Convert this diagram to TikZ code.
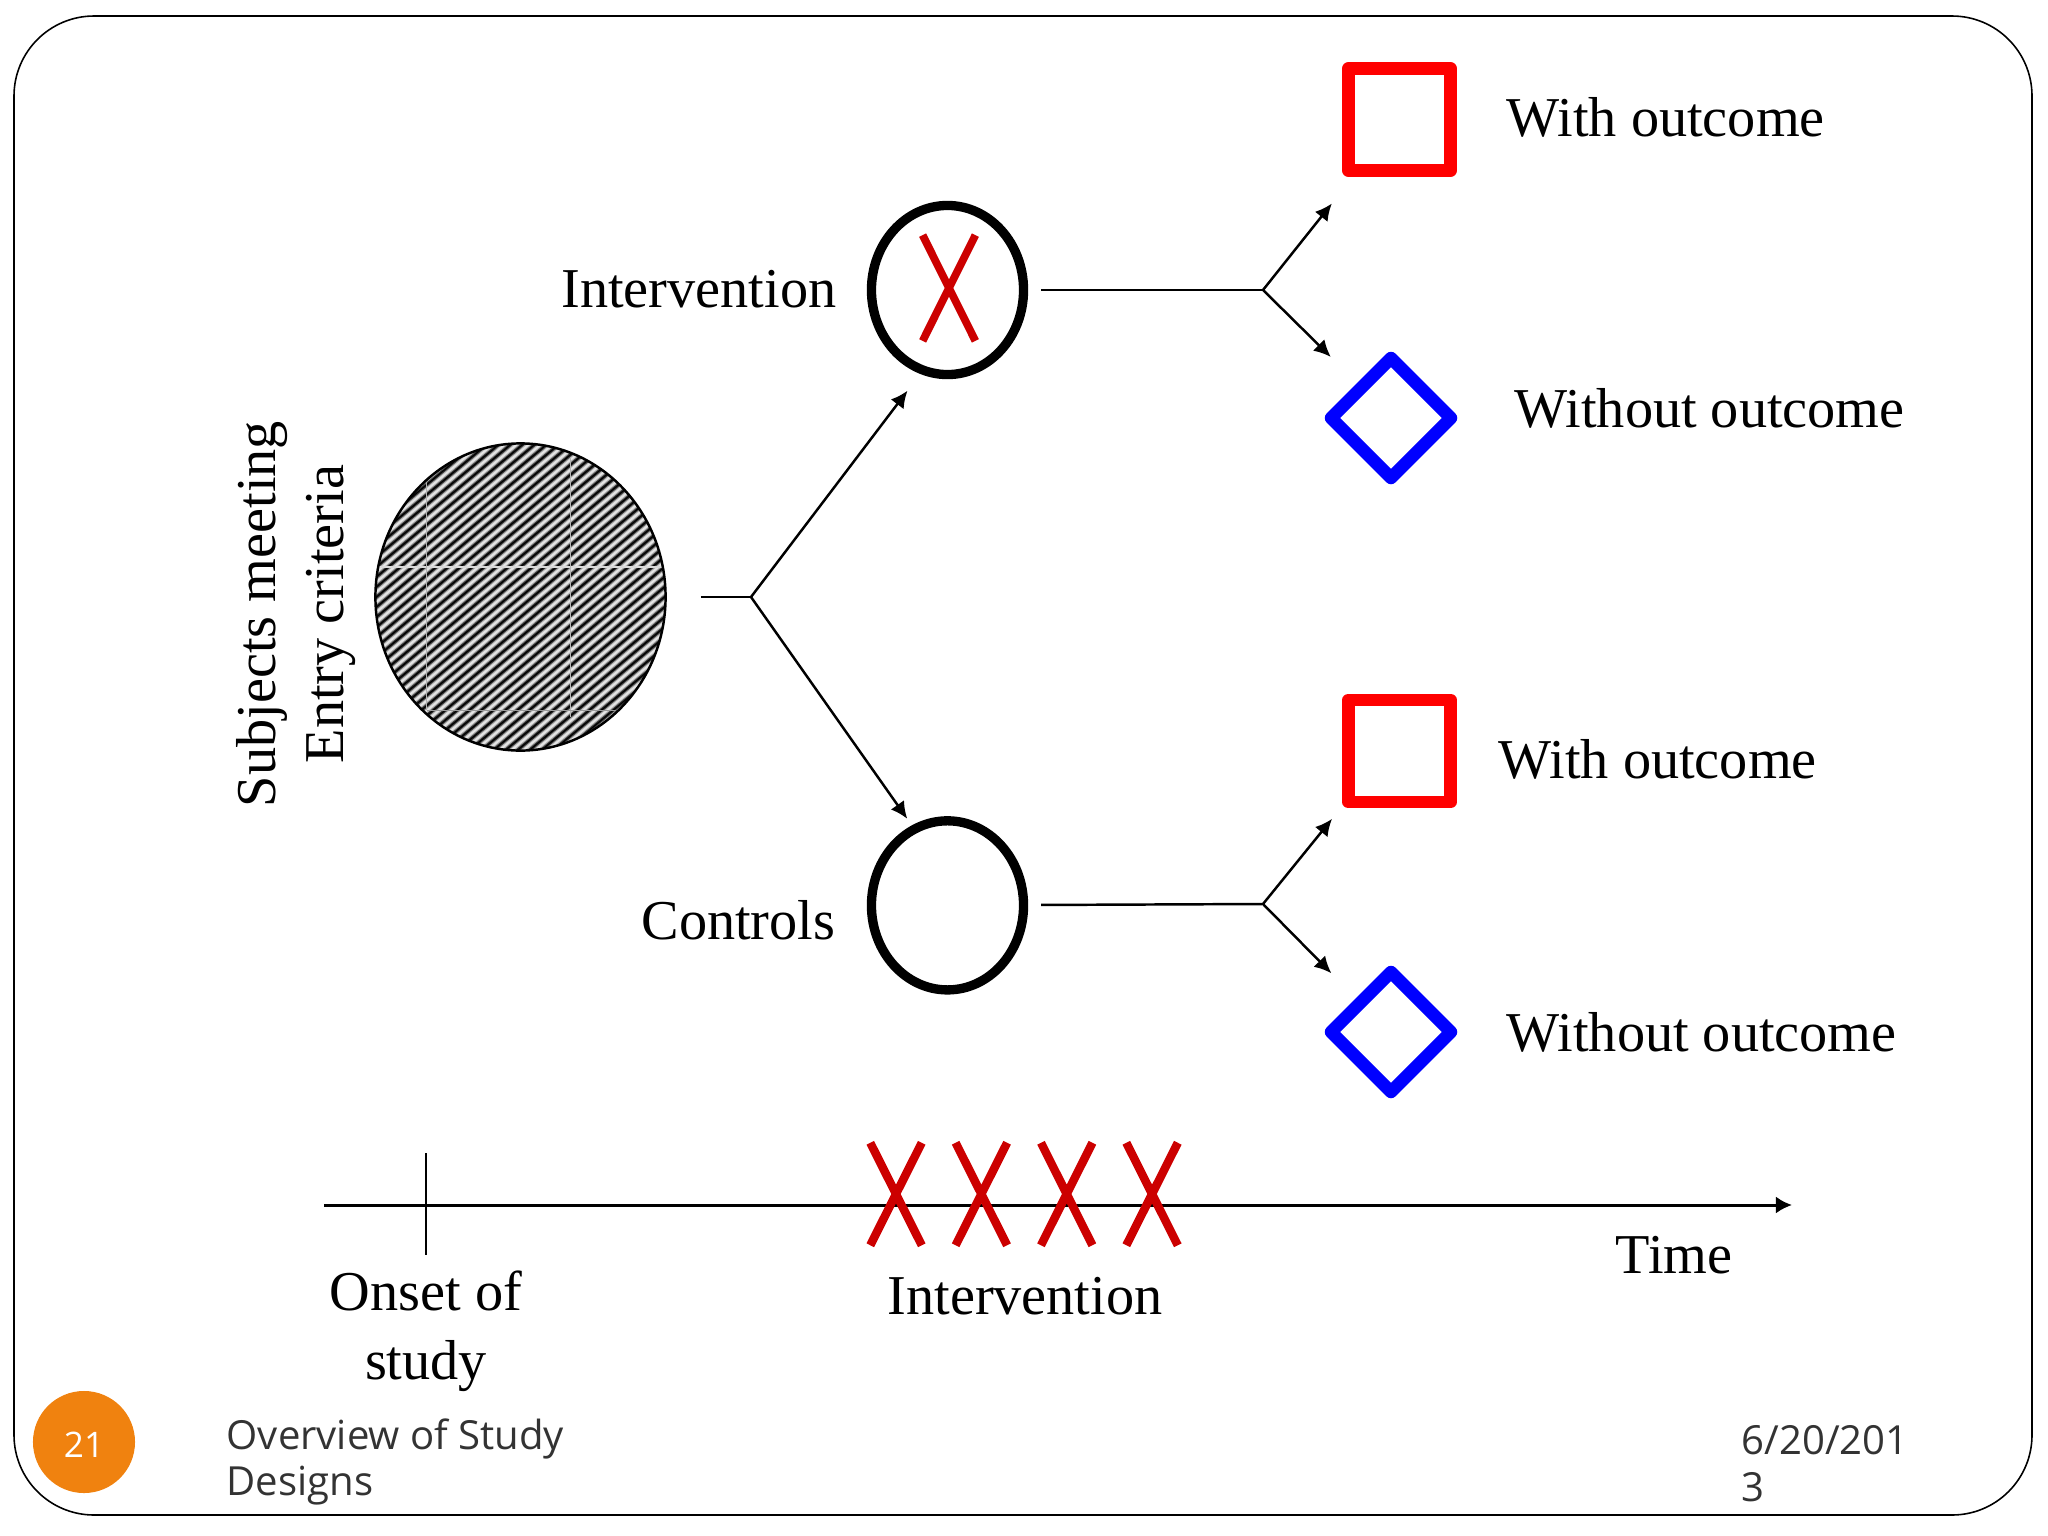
\documentclass[tikz,border=0pt]{standalone}
\usepackage{fontspec}
\setmainfont{Liberation Serif}
\newfontfamily\footfont{Open Sans}
\usetikzlibrary{shapes,arrows.meta}
\definecolor{markred}{HTML}{CC0000}
\definecolor{badge}{HTML}{F0820F}
\definecolor{foottext}{HTML}{333333}
\tikzstyle{line} = [draw, line width=.7pt, -{Latex[length=4.8pt,width=4.6pt]}]
\tikzstyle{stem} = [draw, line width=.7pt]
\tikzstyle{label} = [inner sep=0pt, font=\fontsize{16}{19.4}\selectfont, align=center]
\tikzstyle{foot} = [inner sep=0pt, font=\footfont\fontsize{11.4}{13.3}\selectfont, text=foottext, align=left, anchor=west]
\tikzstyle{arm} = [draw, ellipse, line width=2.65pt, minimum width=1.52cm, minimum height=1.69cm, inner sep=0pt]
\tikzstyle{withbox} = [draw=red, rectangle, line width=3.6pt, line join=round, minimum width=1.02cm, minimum height=1.02cm, inner sep=0pt]
\tikzstyle{withoutbox} = [draw=blue, diamond, aspect=1, line width=3.6pt, line join=round, minimum size=1.25cm, inner sep=0pt]
\tikzstyle{xmark} = [draw=markred, cross out, line width=2.4pt, minimum width=.43cm, minimum height=.94cm, inner sep=0pt]
\tikzstyle{pool} = [draw, ellipse, line width=.7pt, minimum width=2.9cm, minimum height=3.07cm, inner sep=0pt, fill=gray!60,
  path picture={
    \foreach \k in {-30,...,30}
      \draw[line width=.95pt, gray!45!black] (\k*12-184,154) -- (\k*12+184,-154);
    \foreach \k in {-30,...,30}
      \draw[line width=.35pt, black] (\k*12-184,154) -- (\k*12+184,-154);
    \foreach \k in {-30,...,30}
      \draw[line width=.55pt, white!90!black] (\k*12-178,154) -- (\k*12+190,-154);
    \draw[line width=.5pt, white!85!black] (-146,-30) -- (146,-30);
    \draw[line width=.35pt, white!70!black] (-94,-117) -- (-94,113);
    \draw[line width=.35pt, white!70!black] (50,-140) -- (50,120);
    \draw[line width=.25pt, white!60!black] (-94,113) -- (95,113);
  }]

\begin{document}
\begin{tikzpicture}[x=.01cm, y=-.01cm]
        \useasboundingbox (0,0) rectangle (2048,1536);
        \draw[line width=.45pt, rounded corners=.8cm] (14,16) rectangle (2032,1515);
        % left side
        \node[pool] (pool) at (520.5,597) {};
        \node[label, rotate=90] (entry) at (296,614) {Subjects meeting\\Entry criteria};
        \coordinate (split) at (751,597);
        % the two arms
        \node[arm] (intervention) at (947.5,290) {};
        \node[arm, below of=intervention, node distance=6.15cm] (controls) {};
        \node[xmark, minimum width=.45cm, minimum height=.98cm, line width=2.2pt] (dose) at (949,288) {};
        \node[label, anchor=east] (interventionlabel) at (837,289) {Intervention};
        \node[label, anchor=east] (controlslabel) at (836,920) {Controls};
        \coordinate (splittop) at (1263,290);
        \coordinate (splitbottom) at (1263,904);
        % outcomes
        \node[withbox] (withtop) at (1399.5,119.5) {};
        \node[withoutbox] (withouttop) at (1391,418) {};
        \node[withbox] (withbottom) at (1399.5,751) {};
        \node[withoutbox] (withoutbottom) at (1391,1032) {};
        \node[label, anchor=west] (withtoplabel) at (1506,117) {With outcome};
        \node[label, anchor=west] (withouttoplabel) at (1514,408) {Without outcome};
        \node[label, anchor=west] (withbottomlabel) at (1498,759) {With outcome};
        \node[label, anchor=west] (withoutbottomlabel) at (1506,1032) {Without outcome};
        \path[stem, shorten <=.34cm] (pool) -- (split);
        \path[line, shorten >=.21cm] (split) -- (intervention.252);
        \path[line, shorten >=.08cm] (split) -- (controls.114.5);
        \path[stem, shorten <=.13cm] (intervention) -- (splittop);
        \path[stem, shorten <=.13cm] (controls) -- (splitbottom);
        \path[line, shorten >=.34cm] (splittop) -- (withtop.231.6);
        \path[line, shorten >=.37cm] (splittop) -- (withouttop.134);
        \path[line, shorten >=.16cm] (splitbottom) -- (withbottom.224);
        \path[line, shorten >=.35cm] (splitbottom) -- (withoutbottom.136);
        % time line
        \coordinate (timestart) at (324,1205);
        \coordinate (timeend) at (1792,1205);
        \coordinate (ticktop) at (426,1153);
        \coordinate (tickbottom) at (426,1255);
        \path[draw, line width=.85pt, -{Latex[length=4.6pt,width=4.9pt]}] (timestart) -- (timeend);
        \draw[line width=.6pt] (ticktop) -- (tickbottom);
        \node[xmark] (firstx) at (896,1194) {};
        \node[xmark, right of=firstx, node distance=.853cm] (secondx) {};
        \node[xmark, right of=secondx, node distance=.853cm] (thirdx) {};
        \node[xmark, right of=thirdx, node distance=.853cm] (fourthx) {};
        \node[label, font=\fontsize{16}{19.6}\selectfont] (onset) at (426,1331) {Onset of\\study};
        \node[label] (schedule) at (1025,1296) {Intervention};
        \node[label] (time) at (1674,1255) {Time};
        % footer
        \node[circle, fill=badge, minimum size=1.02cm, inner sep=0pt, text=white, font=\footfont\fontsize{10}{12}\selectfont] (page) at (84,1442) {\rule{0pt}{8.8pt}21};
        \node[foot] (title) at (226,1462) {Overview of Study\\Designs};
        \node[foot] (date) at (1741,1464) {6/20/201\\3};
    \end{tikzpicture}
\end{document}
